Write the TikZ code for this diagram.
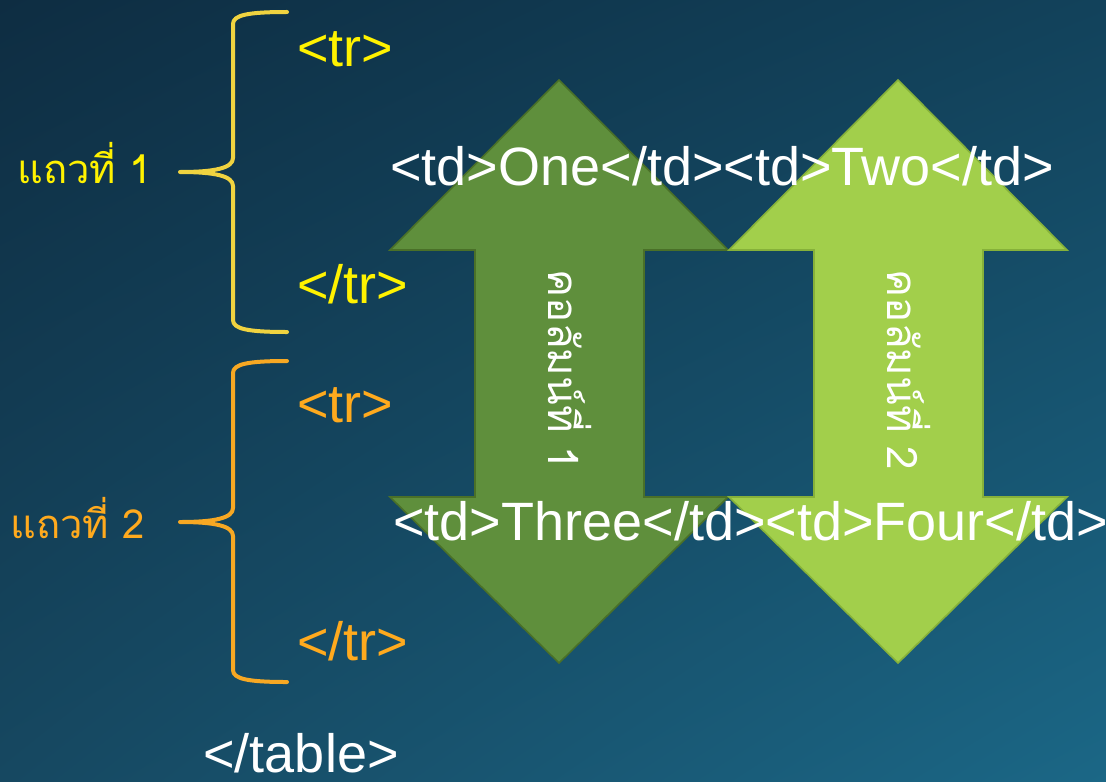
\documentclass[tikz,border=0pt]{standalone}
\usepackage{fontspec}
\setmainfont{Liberation Sans}
\newfontfamily\thaifont[Script=Thai]{Loma}
\usetikzlibrary{positioning,shadings}

\definecolor{bgUL}{HTML}{0E2D42}
\definecolor{bgUR}{HTML}{12425B}
\definecolor{bgLL}{HTML}{164861}
\definecolor{bgLR}{HTML}{1B6786}
\definecolor{rowA}{HTML}{FFF200}
\definecolor{braceA}{HTML}{F0D340}
\definecolor{rowB}{HTML}{FFAA1E}
\definecolor{braceB}{HTML}{F7A823}
\definecolor{colA}{HTML}{5F8F3C}
\definecolor{colAedge}{HTML}{4A7028}
\definecolor{colB}{HTML}{A2CF4B}
\definecolor{colBedge}{HTML}{86B13A}

\tikzset{
  tag/.style={font=\fontsize{27}{30}\selectfont, inner sep=0pt, anchor=base west},
  rowlabel/.style={font=\thaifont\fontsize{20}{24}\selectfont, inner sep=0pt, anchor=base west},
  colname/.style={font=\thaifont\fontsize{21}{24}\selectfont, text=white, inner sep=0pt},
  brace/.style={line width=2pt, line join=round, line cap=round},
}

\begin{document}
\begin{tikzpicture}[x=0.5pt, y=-0.5pt]
\useasboundingbox (0,0) rectangle (1106,781);
\shade[upper left=bgUL, upper right=bgUR, lower left=bgLL, lower right=bgLR]
    (0,0) rectangle (1106,781);

% the two columns
\foreach \cx/\fc/\dc [count=\i] in {559/colA/colAedge, 898/colB/colBedge} {
    \draw[line width=0.8pt, fill=\fc, draw=\dc]
        (\cx,80) -- (\cx+169,250) -- (\cx+85,250) -- (\cx+85,497) -- (\cx+169,497)
        -- (\cx,663) -- (\cx-169,497) -- (\cx-84,497) -- (\cx-84,250) -- (\cx-169,250) -- cycle;
    \node[colname, rotate=-90] (col\i) at (\cx+11,370) {คอลัมน์ที่ \i};
}

% row 1
\draw[brace, braceA] (287,12) .. controls (248,12) and (233,15) .. (233,24) -- (233,158)
    .. controls (233,168) and (215,172) .. (180,172)
    .. controls (215,172) and (233,176) .. (233,186) -- (233,320)
    .. controls (233,329) and (248,332) .. (287,332);
\node[rowlabel, text=rowA] (row1) at (17,183) {แถวที่ 1};
\node[tag, text=rowA] (tr1) at (297,67) {<tr>};
\node[tag, text=rowA] (etr1) at (297,303) {</tr>};

% row 2
\draw[brace, braceB] (287,361) .. controls (248,361) and (233,364) .. (233,373) -- (233,508)
    .. controls (233,518) and (215,522) .. (180,522)
    .. controls (215,522) and (233,526) .. (233,536) -- (233,670)
    .. controls (233,679) and (248,682) .. (287,682);
\node[rowlabel, text=rowB] (row2) at (10,538) {แถวที่ 2};
\node[tag, text=rowB] (tr2) at (297,422) {<tr>};
\node[tag, text=rowB] (etr2) at (297,660) {</tr>};

% cells
\node[tag, text=white] (cells1) at (390,185) {<td>One</td><td>Two</td>};
\node[tag, text=white] (cells2) at (393,540) {<td>Three</td><td>Four</td>};
\node[tag, text=white] (etable) at (203,772) {</table>};
\end{tikzpicture}
\end{document}
